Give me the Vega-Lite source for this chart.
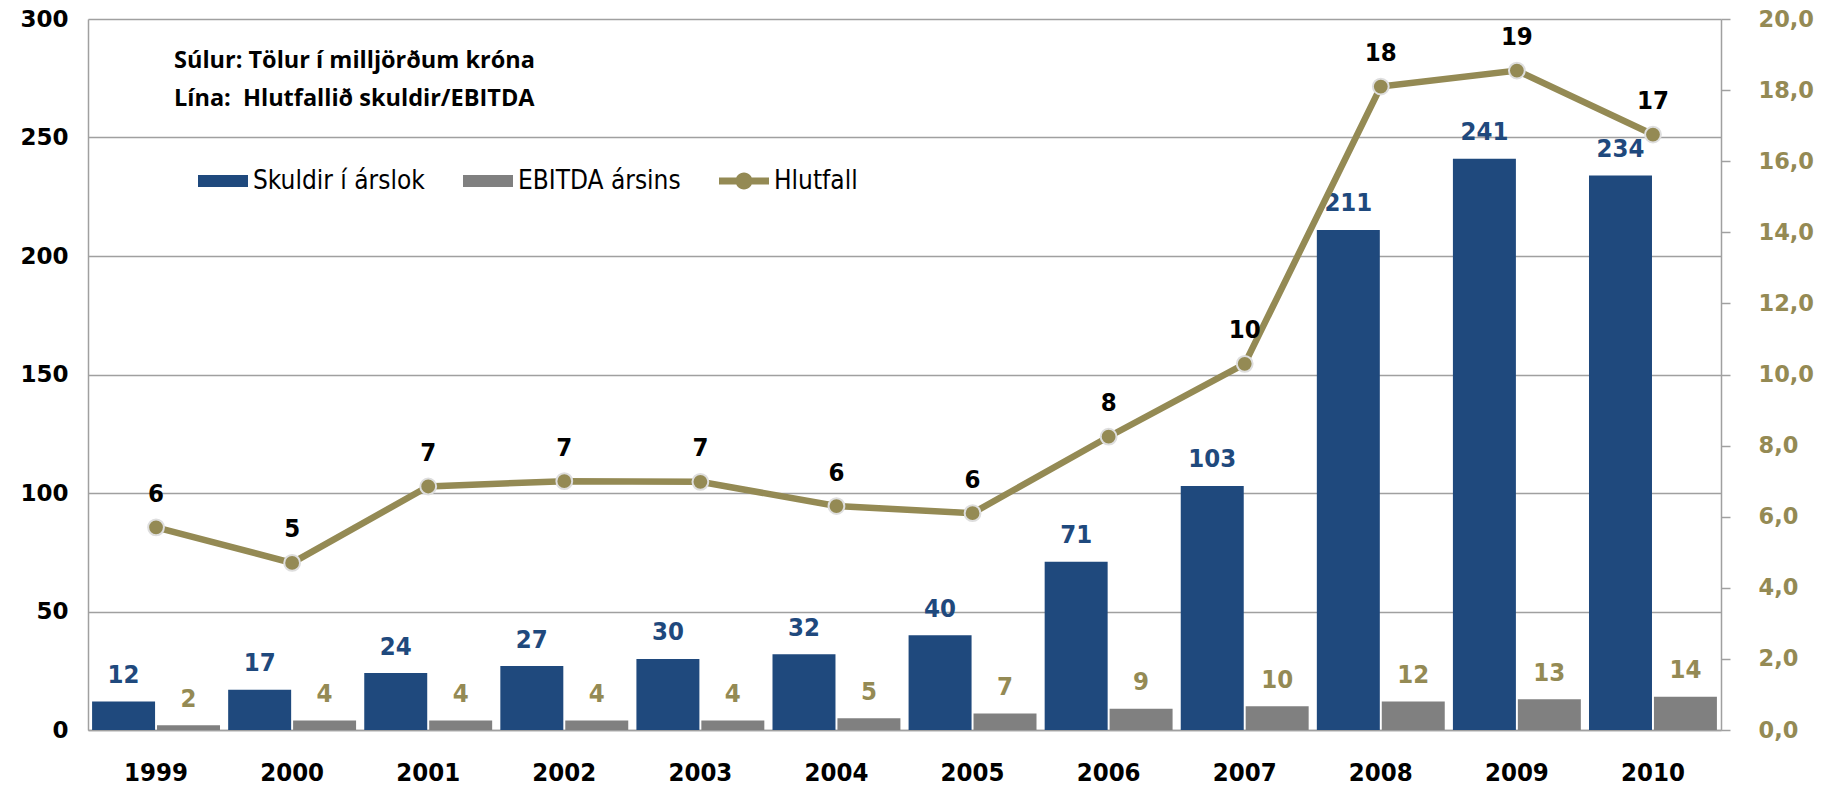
{
  "$schema": "https://vega.github.io/schema/vega-lite/v6.json",
  "width": 1633,
  "height": 711,
  "autosize": "none",
  "padding": {"left": 88, "top": 19, "right": 104, "bottom": 56},
  "background": "white",
  "config": {
    "locale": {"number": {"decimal": ",", "thousands": ".", "grouping": [3], "currency": ["", ""]}},
    "view": {"stroke": null}
  },
  "title": {
    "text": ["Súlur: Tölur í milljörðum króna", "Lína:\u00a0 Hlutfallið skuldir/EBITDA"],
    "anchor": "start",
    "frame": "group",
    "orient": "top",
    "offset": 0,
    "dx": 86,
    "dy": 121,
    "baseline": "alphabetic",
    "font": "Open Sans",
    "fontSize": 23.5,
    "fontWeight": "bold",
    "color": "black",
    "lineHeight": 38
  },
  "data": {
    "values": [
      {"year": "1999", "series": "Skuldir í árslok", "value": 12},
      {"year": "2000", "series": "Skuldir í árslok", "value": 17},
      {"year": "2001", "series": "Skuldir í árslok", "value": 24},
      {"year": "2002", "series": "Skuldir í árslok", "value": 27},
      {"year": "2003", "series": "Skuldir í árslok", "value": 30},
      {"year": "2004", "series": "Skuldir í árslok", "value": 32},
      {"year": "2005", "series": "Skuldir í árslok", "value": 40},
      {"year": "2006", "series": "Skuldir í árslok", "value": 71},
      {"year": "2007", "series": "Skuldir í árslok", "value": 103},
      {"year": "2008", "series": "Skuldir í árslok", "value": 211},
      {"year": "2009", "series": "Skuldir í árslok", "value": 241},
      {"year": "2010", "series": "Skuldir í árslok", "value": 234},
      {"year": "1999", "series": "EBITDA ársins", "value": 2},
      {"year": "2000", "series": "EBITDA ársins", "value": 4},
      {"year": "2001", "series": "EBITDA ársins", "value": 4},
      {"year": "2002", "series": "EBITDA ársins", "value": 4},
      {"year": "2003", "series": "EBITDA ársins", "value": 4},
      {"year": "2004", "series": "EBITDA ársins", "value": 5},
      {"year": "2005", "series": "EBITDA ársins", "value": 7},
      {"year": "2006", "series": "EBITDA ársins", "value": 9},
      {"year": "2007", "series": "EBITDA ársins", "value": 10},
      {"year": "2008", "series": "EBITDA ársins", "value": 12},
      {"year": "2009", "series": "EBITDA ársins", "value": 13},
      {"year": "2010", "series": "EBITDA ársins", "value": 14},
      {"year": "1999", "series": "Hlutfall", "value": 5.7},
      {"year": "2000", "series": "Hlutfall", "value": 4.7},
      {"year": "2001", "series": "Hlutfall", "value": 6.85},
      {"year": "2002", "series": "Hlutfall", "value": 7.0},
      {"year": "2003", "series": "Hlutfall", "value": 6.98},
      {"year": "2004", "series": "Hlutfall", "value": 6.3},
      {"year": "2005", "series": "Hlutfall", "value": 6.1},
      {"year": "2006", "series": "Hlutfall", "value": 8.25},
      {"year": "2007", "series": "Hlutfall", "value": 10.3},
      {"year": "2008", "series": "Hlutfall", "value": 18.1},
      {"year": "2009", "series": "Hlutfall", "value": 18.55},
      {"year": "2010", "series": "Hlutfall", "value": 16.75}
    ]
  },
  "layer": [
    {
      "transform": [{"filter": "datum.series !== 'Hlutfall'"}],
      "layer": [
        {
          "mark": {"type": "bar"},
          "encoding": {
            "x": {
              "field": "year", "type": "ordinal",
              "scale": {"paddingInner": 0.06, "paddingOuter": 0.03},
              "axis": {"title": null, "labelAngle": 0, "ticks": false, "domainColor": "#a0a0a0", "domainWidth": 1.5, "labelPadding": 30, "labelFont": "DejaVu Sans Condensed", "labelFontWeight": "bold", "labelFontSize": 25.5, "labelColor": "black"}
            },
            "xOffset": {"field": "series", "type": "nominal", "scale": {"domain": ["Skuldir í árslok", "EBITDA ársins"], "paddingInner": 0.03, "paddingOuter": 0}},
            "y": {
              "field": "value", "type": "quantitative",
              "scale": {"domain": [0, 300], "nice": false},
              "axis": {"title": null, "values": [0, 50, 100, 150, 200, 250, 300], "grid": true, "gridColor": "#a0a0a0", "gridWidth": 1.3, "domainColor": "#a0a0a0", "domainWidth": 1.5, "ticks": false, "labelPadding": 20, "labelFont": "DejaVu Sans", "labelFontWeight": "bold", "labelFontSize": 23, "labelColor": "black"}
            },
            "color": {
              "field": "series", "type": "nominal",
              "scale": {"domain": ["Skuldir í árslok", "EBITDA ársins", "Hlutfall"], "range": ["#1F497D", "#808080", "#948A54"]}
            }
          }
        },
        {
          "transform": [{"filter": "datum.series === 'Skuldir í árslok'"}],
          "mark": {"type": "text", "dy": -26.5, "font": "DejaVu Sans Condensed", "fontWeight": "bold", "fontSize": 25.5, "color": "#1F497D"},
          "encoding": {
            "x": {"field": "year", "type": "ordinal"},
            "xOffset": {"field": "series", "type": "nominal"},
            "y": {"field": "value", "type": "quantitative"},
            "text": {"field": "value", "type": "quantitative", "format": ".0f"}
          }
        },
        {
          "transform": [{"filter": "datum.series === 'EBITDA ársins'"}],
          "mark": {"type": "text", "dy": -26.5, "font": "DejaVu Sans Condensed", "fontWeight": "bold", "fontSize": 25.5, "color": "#948A54"},
          "encoding": {
            "x": {"field": "year", "type": "ordinal"},
            "xOffset": {"field": "series", "type": "nominal"},
            "y": {"field": "value", "type": "quantitative"},
            "text": {"field": "value", "type": "quantitative", "format": ".0f"}
          }
        }
      ]
    },
    {
      "transform": [{"filter": "datum.series === 'Hlutfall'"}],
      "layer": [
        {
          "mark": {"type": "line", "color": "#948A54", "strokeWidth": 6.5},
          "encoding": {
            "x": {"field": "year", "type": "ordinal"},
            "y": {
              "field": "value", "type": "quantitative",
              "scale": {"domain": [0, 20], "nice": false},
              "axis": {"orient": "right", "title": null, "values": [0, 2, 4, 6, 8, 10, 12, 14, 16, 18, 20], "format": ".1f", "grid": false, "domainColor": "#a0a0a0", "domainWidth": 1.5, "tickColor": "#a0a0a0", "tickSize": 9, "tickWidth": 1.5, "labelPadding": 28, "labelFont": "DejaVu Sans", "labelFontWeight": "bold", "labelFontSize": 22.5, "labelColor": "#948A54"}
            }
          }
        },
        {
          "mark": {"type": "circle", "size": 250, "fill": "#948A54", "stroke": "#dedede", "strokeWidth": 2, "opacity": 1},
          "encoding": {
            "x": {"field": "year", "type": "ordinal"},
            "y": {"field": "value", "type": "quantitative"}
          }
        },
        {
          "mark": {"type": "text", "dy": -33.5, "font": "DejaVu Sans Condensed", "fontWeight": "bold", "fontSize": 25.5, "color": "black"},
          "encoding": {
            "x": {"field": "year", "type": "ordinal"},
            "y": {"field": "value", "type": "quantitative"},
            "text": {"field": "value", "type": "quantitative", "format": ".0f"}
          }
        },
        {
          "transform": [{"filter": "datum.value < 0"}],
          "mark": {"type": "point", "filled": true},
          "encoding": {
            "color": {
              "field": "series", "type": "nominal",
              "scale": {"domain": ["Skuldir í árslok", "EBITDA ársins", "Hlutfall"], "range": ["#1F497D", "#808080", "#948A54"]},
              "legend": {"orient": "none", "legendX": 110, "legendY": 137, "direction": "horizontal", "title": null, "symbolSize": 2500, "symbolStrokeWidth": 0, "symbolOpacity": 1, "labelLimit": 0, "labelFont": "DejaVu Sans Condensed", "labelFontSize": 26, "labelColor": "black", "labelOffset": 5, "columnPadding": 38, "padding": 0}
            },
            "shape": {
              "field": "series", "type": "nominal",
              "scale": {"domain": ["Skuldir í árslok", "EBITDA ársins", "Hlutfall"], "range": ["M-1,-0.24H1V0.24H-1Z", "M-1,-0.24H1V0.24H-1Z", "M-1,-0.14H1V0.14H-1Z M-0.34,0A0.34,0.34,0,1,1,0.34,0A0.34,0.34,0,1,1,-0.34,0Z"]},
              "legend": {"orient": "none", "legendX": 110, "legendY": 137, "direction": "horizontal", "title": null, "symbolSize": 2500, "symbolStrokeWidth": 0, "symbolOpacity": 1, "labelLimit": 0, "labelFont": "DejaVu Sans Condensed", "labelFontSize": 26, "labelColor": "black", "labelOffset": 5, "columnPadding": 38, "padding": 0}
            }
          }
        }
      ]
    }
  ],
  "resolve": {"scale": {"y": "independent"}}
}
